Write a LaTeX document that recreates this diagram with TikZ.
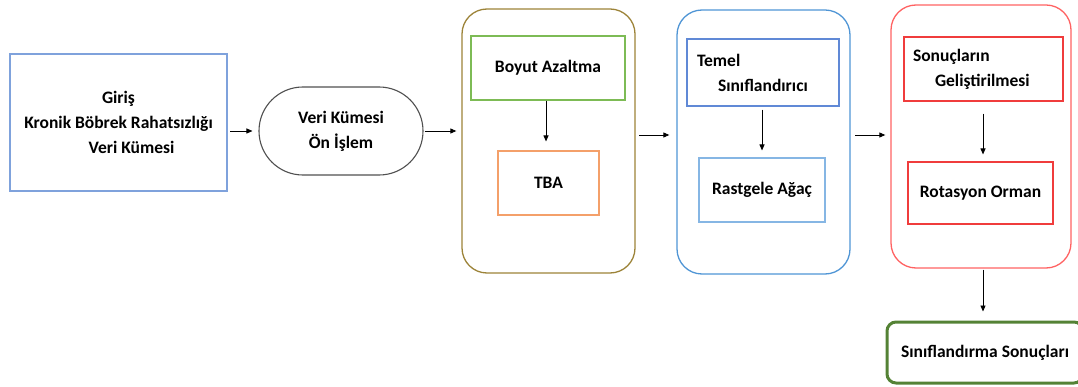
\documentclass[tikz,border=0pt]{standalone}
\usepackage{fontspec}
\setmainfont{Carlito}
\usetikzlibrary{arrows.meta}
\definecolor{cin}{HTML}{7FA2DC}
\definecolor{cstad}{HTML}{505050}
\definecolor{cone}{HTML}{9C8338}
\definecolor{cboy}{HTML}{7DBB55}
\definecolor{ctba}{HTML}{F4A06A}
\definecolor{ctwo}{HTML}{4F95D5}
\definecolor{ctem}{HTML}{6089D6}
\definecolor{cras}{HTML}{86B6E4}
\definecolor{cthree}{HTML}{FF6262}
\definecolor{cred}{HTML}{F03C3C}
\definecolor{cfin}{HTML}{548235}
\tikzset{
  base/.style={draw, line width=1.1pt, inner sep=0pt, font=\fontsize{17.5}{25}\selectfont\bfseries, align=center, text=black},
  contbox/.style={draw, line width=1.3pt, rounded corners=25pt, inner sep=0pt},
  arr/.style={-{Triangle[length=6pt,width=5pt]}, line width=0.9pt, black}
}
\begin{document}
\begin{tikzpicture}[x=1pt,y=-1pt]
\useasboundingbox (0,0) rectangle (1078,387);
\clip (0,0) rectangle (1078,387);
% input
\node[base, draw=cin, minimum width=217pt, minimum height=137pt] (inp) at (118.5,122.5)
  {Giriş\\Kronik Böbrek Rahatsızlığı\\\hspace*{26pt}Veri Kümesi};
\node[base, draw=cstad, rounded corners=43.9pt, minimum width=164pt, minimum height=88pt] (stad) at (341,131)
  {Veri Kümesi\\Ön İşlem};
% container 1
\node[contbox, draw=cone, minimum width=173pt, minimum height=264pt] (c1) at (548.5,141) {};
\node[base, draw=cboy, minimum width=154pt, minimum height=64pt] (boy) at (548,68) {Boyut Azaltma};
\node[base, draw=ctba, minimum width=101pt, minimum height=64pt] (tba) at (548.5,183) {TBA};
% container 2
\node[contbox, draw=ctwo, minimum width=173pt, minimum height=264pt] (c2) at (763.5,142) {};
\node[base, draw=ctem, minimum width=152pt, minimum height=67pt, align=left, inner xsep=10pt, text width=132pt] (tem) at (763,72.5)
  {Temel\\\hspace*{21pt}Sınıflandırıcı};
\node[base, draw=cras, minimum width=126pt, minimum height=64pt] (ras) at (762,190) {Rastgele Ağaç};
% container 3
\node[contbox, draw=cthree, minimum width=180pt, minimum height=263pt] (c3) at (981,136.5) {};
\node[base, draw=cred, minimum width=159pt, minimum height=64pt, align=left, inner xsep=9pt, text width=141pt] (son) at (983.5,69)
  {Sonuçların\\\hspace*{22pt}Geliştirilmesi};
\node[base, draw=cred, minimum width=145pt, minimum height=62pt] (rot) at (980.5,193) {Rotasyon Orman};
% final
\node[base, draw=cfin, line width=3pt, rounded corners=9pt, minimum width=196pt, minimum height=61pt] (fin) at (985,352.5)
  {Sınıflandırma Sonuçları};
% arrows
\coordinate (a1) at (230,131);
\coordinate (a3) at (639,135);
\coordinate (a4) at (855,135);
\draw[arr, shorten >=6pt] (a1) -- (a1 -| stad.west);
\draw[arr, shorten <=1pt, shorten >=5pt] (stad.east) -- (stad.east -| c1.west);
\draw[arr, shorten >=7pt] (a3) -- (a3 -| c2.west);
\draw[arr, shorten >=5pt] (a4) -- (a4 -| c3.west);
\draw[arr, shorten >=9pt] (boy.south -| 546,0) -- (tba.north -| 546,0);
\draw[arr, shorten <=3pt, shorten >=7pt] (tem.south -| 762,0) -- (ras.north -| 762,0);
\draw[arr, shorten <=12pt, shorten >=7pt] (son.south -| 983,0) -- (rot.north -| 983,0);
\draw[arr, shorten <=1pt, shorten >=9pt] (c3.south -| 983,0) -- (fin.north -| 983,0);
\end{tikzpicture}
\end{document}
